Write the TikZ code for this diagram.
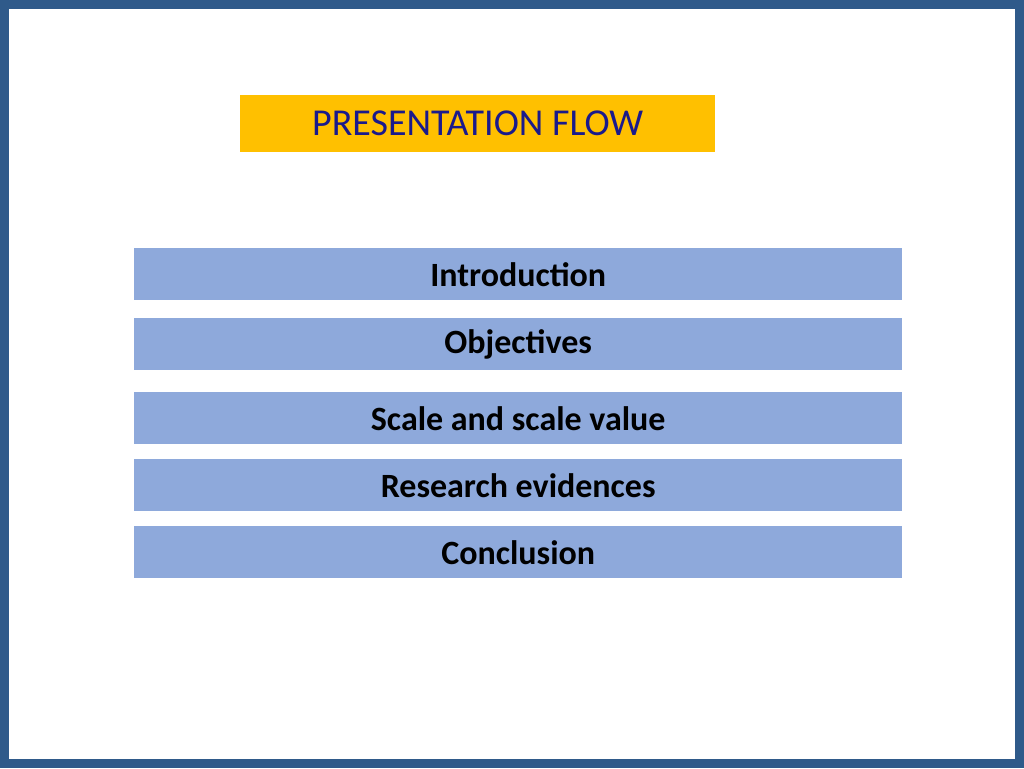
\documentclass[tikz,border=0pt]{standalone}
\usepackage{fontspec}
\setmainfont{Carlito}
\definecolor{frame}{HTML}{2F5A8A}
\definecolor{gold}{HTML}{FFC000}
\definecolor{bar}{HTML}{8EA9DB}
\definecolor{navy}{HTML}{1A1A8C}
\begin{document}
\begin{tikzpicture}[x=1pt,y=-1pt,
  bar/.style={fill=bar,draw=none,minimum width=768pt,minimum height=52pt,inner sep=0pt,anchor=north west,
    font=\fontsize{34}{40}\selectfont\bfseries,text=black}]
\useasboundingbox (0,0) rectangle (1024,768);
\fill[white] (0,0) rectangle (1024,768);
\draw[frame,line width=9pt] (4.5,4.5) rectangle (1019.5,763.5);
\node[fill=gold,minimum width=475pt,minimum height=57pt,inner sep=0pt,anchor=north west,
  font=\fontsize{38}{44}\selectfont,text=navy] (title) at (240,95) {PRESENTATION FLOW};
\node[bar] (b1) at (134,248) {Introduction};
\node[bar] (b2) at (134,318) {Objectives};
\node[bar] (b3) at (134,392) {Scale and scale value};
\node[bar] (b4) at (134,459) {Research evidences};
\node[bar] (b5) at (134,526) {Conclusion};
\end{tikzpicture}
\end{document}
